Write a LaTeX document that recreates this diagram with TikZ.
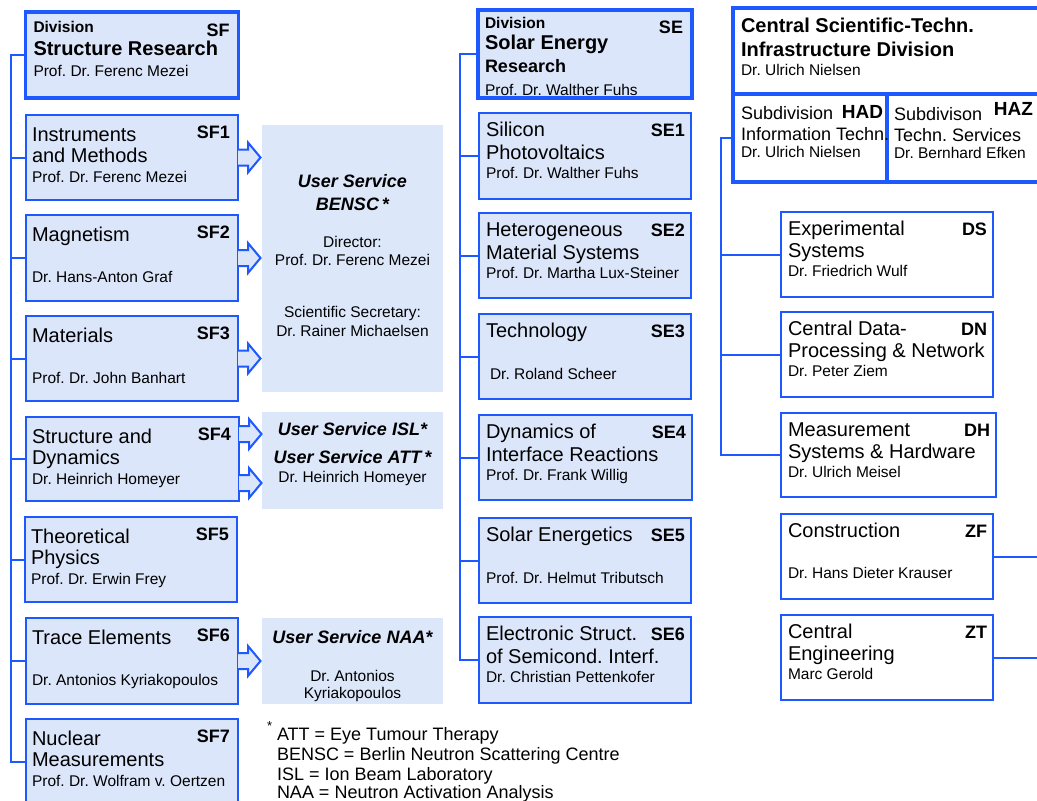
\documentclass[tikz,border=0pt]{standalone}
\usepackage{fontspec}
\setmainfont{Liberation Sans}
\usetikzlibrary{calc}
\definecolor{hmiblue}{RGB}{30,88,255}
\definecolor{hmifill}{RGB}{220,230,250}
\definecolor{usfill}{RGB}{221,231,250}
\frenchspacing
\newcommand\orgX{6}\newcommand\orgA{26}\newcommand\orgB{47}\newcommand\orgN{67}
\newcommand\orgC{8}\newcommand\orgCY{23}
\newcommand\orgbox[9]{%
  \node[#2, minimum width=#4pt, minimum height=#5pt] (#1) at #3 {};
  \node[cd] (#1c) at ($(#1.north east)+(-\orgC,\orgCY)$) {#6};
  \node[ttl] (#1a) at ($(#1.north west)+(\orgX,\orgA)$) {#7};
  \node[ttl] (#1b) at ($(#1.north west)+(\orgX,\orgB)$) {#8};
  \node[nm] (#1n) at ($(#1.north west)+(\orgX,\orgN)$) {#9};
}
\newcommand\barrow[1]{%
  \draw[blk] ($(#1)+(0,-8)$) -- ++(10,0) -- ++(0,-7) -- ++(12.5,15) -- ++(-12.5,15) -- ++(0,-7) -- ++(-10,0);
}
\begin{document}
\begin{tikzpicture}[x=1pt,y=-1pt,
  box/.style={draw=hmiblue, fill=hmifill, line width=1.6pt, inner sep=0pt, outer sep=0pt, anchor=north west},
  wbox/.style={box, fill=white},
  thickbox/.style={box, line width=3.5pt},
  wthick/.style={thickbox, fill=white},
  txt/.style={inner sep=0pt, outer sep=0pt, anchor=base west, text=black},
  ttl/.style={txt, font=\fontsize{20}{22}\selectfont},
  ttlb/.style={txt, font=\bfseries\fontsize{20}{22}\selectfont},
  sub/.style={txt, font=\fontsize{18}{20}\selectfont},
  subb/.style={txt, font=\bfseries\fontsize{18}{20}\selectfont},
  divl/.style={txt, font=\bfseries\fontsize{15.5}{17}\selectfont},
  nm/.style={txt, font=\fontsize{15.5}{17}\selectfont},
  cd/.style={txt, anchor=base east, font=\bfseries\fontsize{18}{20}\selectfont},
  conn/.style={draw=hmiblue, line width=2pt},
  blk/.style={draw=hmiblue, fill=hmifill, line width=2pt, line join=miter},
  us/.style={fill=usfill, inner sep=0pt, outer sep=0pt, anchor=north west},
  ust/.style={inner sep=0pt, anchor=base, font=\bfseries\itshape\fontsize{18}{20}\selectfont},
  usn/.style={inner sep=0pt, anchor=base, font=\fontsize{15.5}{17}\selectfont},
  fn/.style={txt, font=\fontsize{18}{20}\selectfont}]
\useasboundingbox (0,0) rectangle (1037,801);
\clip (0,0) rectangle (1037,801);

% ---------------- Division SF ----------------
\node[thickbox, minimum width=213pt, minimum height=86pt] (sf) at (25.5,12) {};
\node[divl] (sfd) at ($(sf.north west)+(8,20)$) {Division};
\node[ttlb] (sft) at ($(sf.north west)+(8,43)$) {Structure Research};
\node[nm] (sfn) at ($(sf.north west)+(8,64)$) {Prof. Dr. Ferenc Mezei};
\node[cd] (sfc) at ($(sf.north east)+(-9,24)$) {SF};

\orgbox{sf1}{box}{(26,115)}{212}{85}{SF1}{Instruments}{and Methods}{Prof. Dr. Ferenc Mezei}
\orgbox{sf2}{box}{(26,215)}{212}{86}{SF2}{Magnetism}{}{Dr. Hans-Anton Graf}
\orgbox{sf3}{box}{(26,316)}{212}{85}{SF3}{Materials}{}{Prof. Dr. John Banhart}
\orgbox{sf4}{box}{(26,417)}{213}{84}{SF4}{Structure and}{Dynamics}{Dr. Heinrich Homeyer}
\orgbox{sf5}{box}{(25,517)}{212}{85}{SF5}{Theoretical}{Physics}{Prof. Dr. Erwin Frey}
\orgbox{sf6}{box}{(26,618)}{212}{86}{SF6}{Trace Elements}{}{Dr. Antonios Kyriakopoulos}
\orgbox{sf7}{box}{(26,719)}{212}{86}{SF7}{Nuclear}{Measurements}{Prof. Dr. Wolfram v. Oertzen}

\coordinate (sfsp) at ($(sf.west)+(-15,0)$);
\draw[conn] (sf.west) -- (sfsp) |- (sf7.west);
\foreach \n in {sf1,sf2,sf3,sf4,sf5,sf6} \draw[conn] (sfsp |- \n.west) -- (\n.west);

% ---------------- User services ----------------
\node[us, minimum width=181pt, minimum height=267pt] (bensc) at (262,125) {};
\node[ust] (bensc1) at ($(bensc.north)+(0,62.5)$) {User Service};
\node[ust] (bensc2) at ($(bensc.north)+(0,85)$) {BENSC\,*};
\node[usn] (bensc3) at ($(bensc.north)+(0,122)$) {Director:};
\node[usn] (bensc4) at ($(bensc.north)+(0,140)$) {Prof. Dr. Ferenc Mezei};
\node[usn] (bensc5) at ($(bensc.north)+(0,192)$) {Scientific Secretary:};
\node[usn] (bensc6) at ($(bensc.north)+(0,211)$) {Dr. Rainer Michaelsen};

\node[us, minimum width=181pt, minimum height=97pt] (isl) at (262,412) {};
\node[ust] (isl1) at ($(isl.north)+(0,23)$) {User Service ISL*};
\node[ust] (isl2) at ($(isl.north)+(0,51)$) {User Service ATT\,*};
\node[usn] (isl3) at ($(isl.north)+(0,70)$) {Dr. Heinrich Homeyer};

\node[us, minimum width=181pt, minimum height=86pt] (naa) at (262,618) {};
\node[ust] (naa1) at ($(naa.north)+(0,25)$) {User Service NAA*};
\node[usn] (naa2) at ($(naa.north)+(0,63)$) {Dr. Antonios};
\node[usn] (naa3) at ($(naa.north)+(0,80)$) {Kyriakopoulos};

\barrow{sf1.east}
\barrow{sf2.east}
\barrow{sf3.east}
\barrow{$(sf4.east)+(0,-25)$}
\barrow{$(sf4.east)+(0,24)$}
\barrow{sf6.east}

% ---------------- Footnote ----------------
\node[txt, font=\fontsize{13}{14}\selectfont] (fnstar) at (267,730) {*};
\node[fn] (fn1) at (277,740) {ATT = Eye Tumour Therapy};
\node[fn] (fn2) at (277,760) {BENSC = Berlin Neutron Scattering Centre};
\node[fn] (fn3) at (277,780) {ISL = Ion Beam Laboratory};
\node[fn] (fn4) at (277,798) {NAA = Neutron Activation Analysis};

% ---------------- Division SE ----------------
\node[thickbox, minimum width=214pt, minimum height=88pt] (se) at (478,10) {};
\node[divl] (sed) at ($(se.north west)+(7,18)$) {Division};
\node[ttlb] (set) at ($(se.north west)+(7,39)$) {Solar Energy};
\node[subb] (set2) at ($(se.north west)+(7,62)$) {Research};
\node[nm] (sen) at ($(se.north west)+(7,85)$) {Prof. Dr. Walther Fuhs};
\node[cd] (sec) at ($(se.north east)+(-9,23)$) {SE};
\draw[hmiblue, line width=3.5pt] (se.north west) rectangle (se.south east);

\def\orgX{7}\def\orgA{23}\def\orgB{46}\def\orgN{65}\def\orgC{6}\def\orgCY{23}
\orgbox{se1}{box}{(479,113)}{212}{86}{SE1}{Silicon}{Photovoltaics}{Prof. Dr. Walther Fuhs}
\orgbox{se2}{box}{(479,213)}{212}{85}{SE2}{Heterogeneous}{Material Systems}{Prof. Dr. Martha Lux-Steiner}
\orgbox{se3}{box}{(479,314)}{212}{85}{SE3}{Technology}{}{\hspace{4pt}Dr. Roland Scheer}
\orgbox{se4}{box}{(479,415)}{213}{85}{SE4}{Dynamics of}{Interface Reactions}{Prof. Dr. Frank Willig}
\orgbox{se5}{box}{(479,518)}{212}{85}{SE5}{Solar Energetics}{}{Prof. Dr. Helmut Tributsch}
\orgbox{se6}{box}{(479,617)}{212}{86}{SE6}{Electronic Struct.}{of Semicond. Interf.}{Dr. Christian Pettenkofer}

\coordinate (sesp) at ($(se.west)+(-18,0)$);
\draw[conn] (se.west) -- (sesp) |- (se6.west);
\foreach \n in {se1,se2,se3,se4,se5} \draw[conn] (sesp |- \n.west) -- (\n.west);

% ---------------- Central Scientific-Technical Infrastructure ----------------
\node[wthick, minimum width=320pt, minimum height=86pt] (cst) at (733,8) {};
\node[wthick, minimum width=154pt, minimum height=88pt] (had) at (733,94) {};
\node[wthick, minimum width=170pt, minimum height=88pt] (haz) at (887,94) {};
\node[ttlb] (cst1) at ($(cst.north west)+(8,24)$) {Central Scientific-Techn.};
\node[ttlb] (cst2) at ($(cst.north west)+(8,48)$) {Infrastructure Division};
\node[nm] (cst3) at ($(cst.north west)+(8,67.5)$) {Dr. Ulrich Nielsen};

\node[sub] (had1) at ($(had.north west)+(8,25)$) {Subdivision};
\node[cd, font=\bfseries\fontsize{19}{21}\selectfont] (hadc) at ($(had.north east)+(-4,24)$) {HAD};
\node[sub] (had2) at ($(had.north west)+(8,46)$) {Information Techn.};
\node[nm] (had3) at ($(had.north west)+(8,63)$) {Dr. Ulrich Nielsen};

\node[sub] (haz1) at ($(haz.north west)+(7,26)$) {Subdivison};
\node[cd, font=\bfseries\fontsize{19}{21}\selectfont] (hazc) at ($(haz.north west)+(146,21)$) {HAZ};
\node[sub] (haz2) at ($(haz.north west)+(7,47)$) {Techn. Services};
\node[nm] (haz3) at ($(haz.north west)+(7,64)$) {Dr. Bernhard Efken};

\def\orgX{7}\def\orgA{23}\def\orgB{45}\def\orgN{64}\def\orgC{6}\def\orgCY{23}
\orgbox{ds}{wbox}{(781,212)}{212}{85}{DS}{Experimental}{Systems}{Dr. Friedrich Wulf}
\orgbox{dn}{wbox}{(781,312)}{212}{85}{DN}{Central Data-}{Processing \& Network}{Dr. Peter Ziem}
\orgbox{dh}{wbox}{(781,413)}{215}{84}{DH}{Measurement}{Systems \& Hardware}{Dr. Ulrich Meisel}
\orgbox{zf}{wbox}{(781,514)}{212}{85}{ZF}{Construction}{}{Dr. Hans Dieter Krauser}
\orgbox{zt}{wbox}{(781,615)}{212}{85}{ZT}{Central}{Engineering}{Marc Gerold}

\coordinate (rsp) at ($(had.west)+(-12,0)$);
\draw[conn] (had.west) -- (rsp) |- (dh.west);
\foreach \n in {ds,dn} \draw[conn] (rsp |- \n.west) -- (\n.west);
\coordinate (zfe) at ($(zf.east)+(60,0)$);
\coordinate (zte) at ($(zt.east)+(60,0)$);
\draw[conn] (zf.east) -- (zfe);
\draw[conn] (zt.east) -- (zte);
\end{tikzpicture}
\end{document}
